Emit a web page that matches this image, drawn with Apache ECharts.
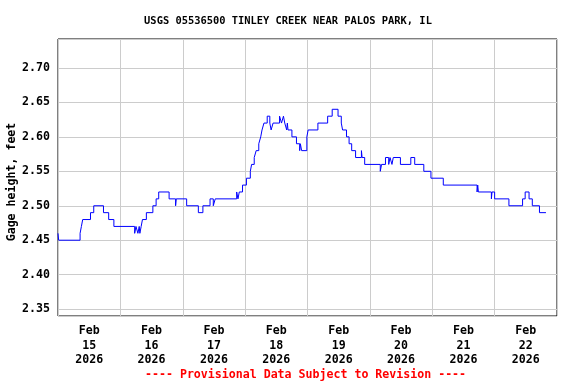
<!DOCTYPE html>
<html>
<head>
<meta charset="utf-8">
<script src="https://cdn.jsdelivr.net/npm/echarts@6/dist/echarts.min.js"></script>
<style>html,body{margin:0;padding:0;background:#fff}#c{width:576px;height:384px}</style>
</head>
<body>
<div id="c"></div>
<script>
// Hours since 2026-02-15 00:00 at which the gage height changes
var changeHours = [0, 0.25, 8.5, 9, 9.5, 12.5, 13.75, 17.5, 19.5, 21.5, 29.5, 30, 30.75, 31.25, 31.5, 32, 32.5, 34, 36.5, 37.75, 38.75, 42.75, 45.25, 45.5, 49.5, 54, 55.75, 58.5, 59.75, 60.5, 68.75, 69.25, 69.75, 71, 72.5, 74, 74.5, 75.5, 76.25, 77.25, 78, 78.5, 79.25, 80.5, 81.5, 82, 82.75, 85.25, 86, 86.75, 87.25, 88, 88.25, 88.5, 90, 91.75, 93, 93.25, 93.75, 95.75, 96.25, 100, 103.75, 105.5, 107.75, 109, 109.5, 111, 112, 113, 114.5, 116.75, 117, 118, 124, 124.5, 126, 127.25, 127.75, 128.5, 129, 131.75, 135.75, 137.25, 140.75, 143.5, 148.25, 161.25, 161.5, 161.75, 166.75, 167, 168, 173.5, 178.75, 179.75, 181.25, 182.5, 185.25, 187.75];
// Gage height, feet
var gageHeight = [2.46, 2.45, 2.46, 2.47, 2.48, 2.49, 2.50, 2.49, 2.48, 2.47, 2.46, 2.47, 2.46, 2.47, 2.46, 2.47, 2.48, 2.49, 2.50, 2.51, 2.52, 2.51, 2.50, 2.51, 2.50, 2.49, 2.50, 2.51, 2.50, 2.51, 2.52, 2.51, 2.52, 2.53, 2.54, 2.55, 2.56, 2.57, 2.58, 2.59, 2.60, 2.61, 2.62, 2.63, 2.62, 2.61, 2.62, 2.63, 2.62, 2.63, 2.62, 2.61, 2.62, 2.61, 2.60, 2.59, 2.58, 2.59, 2.58, 2.60, 2.61, 2.62, 2.63, 2.64, 2.63, 2.62, 2.61, 2.60, 2.59, 2.58, 2.57, 2.58, 2.57, 2.56, 2.55, 2.56, 2.57, 2.56, 2.57, 2.56, 2.57, 2.56, 2.57, 2.56, 2.55, 2.54, 2.53, 2.52, 2.53, 2.52, 2.51, 2.52, 2.51, 2.50, 2.51, 2.52, 2.51, 2.50, 2.49, 2.49];
var dayMonths = ['Feb', 'Feb', 'Feb', 'Feb', 'Feb', 'Feb', 'Feb', 'Feb'];
var dayNumbers = ['15', '16', '17', '18', '19', '20', '21', '22'];
var dayYears = ['2026', '2026', '2026', '2026', '2026', '2026', '2026', '2026'];
var titleText = 'USGS 05536500 TINLEY CREEK NEAR PALOS PARK, IL';
var yAxisName = 'Gage height, feet';
var footerText = '---- Provisional Data Subject to Revision ----';

var seriesData = changeHours.map(function (h, i) { return [h, gageHeight[i]]; });
var dayLabels = dayMonths.map(function (m, i) { return m + '\n' + dayNumbers[i] + '\n' + dayYears[i]; });
var FONT = 'DejaVu Sans Mono';

var chart = echarts.init(document.getElementById('c'), null, {renderer: 'canvas'});
chart.setOption({
  animation: false,
  backgroundColor: '#fff',
  title: {
    text: titleText, left: 'center', top: 11,
    textStyle: {fontFamily: FONT, fontWeight: 'bold', fontSize: 10.4, color: '#000'}
  },
  graphic: [{
    type: 'text', left: 145, top: 369,
    style: {text: footerText, fontFamily: FONT, fontWeight: 'bold', fontSize: 11.6, fill: '#ff0000'}
  }, {
    type: 'text', rotation: Math.PI / 2, x: 6, y: 182,
    style: {text: yAxisName, fontFamily: FONT, fontWeight: 'bold', fontSize: 11.6, fill: '#000',
      align: 'center', verticalAlign: 'top'}
  }],
  grid: {left: 58, right: 19, top: 39, bottom: 68, containLabel: false, outerBoundsMode: 'none',
    show: true, borderColor: '#000', borderWidth: 1, backgroundColor: 'transparent'},
  xAxis: [{
    type: 'value', min: 0, max: 192, interval: 24,
    axisLabel: {show: false}, axisTick: {show: false}, axisLine: {show: false},
    splitLine: {show: true, lineStyle: {color: '#cccccc', width: 1}}
  }, {
    type: 'category', data: dayLabels, boundaryGap: true, position: 'bottom',
    axisLine: {show: false}, axisTick: {show: false}, splitLine: {show: false},
    axisLabel: {interval: 0, margin: 8, fontFamily: FONT, fontWeight: 'bold', fontSize: 11.6, color: '#000', lineHeight: 14.5}
  }],
  yAxis: {
    type: 'value', min: 2.34, max: 2.742, splitNumber: 8,
    axisLine: {show: false}, axisTick: {show: false},
    axisLabel: {showMinLabel: false, showMaxLabel: false, margin: 8, fontFamily: FONT, fontWeight: 'bold', fontSize: 11.6, color: '#000',
      formatter: function (v) { return v.toFixed(2); }},
    splitLine: {show: true, lineStyle: {color: '#cccccc', width: 1}}
  },
  series: [{
    type: 'line', xAxisIndex: 0, step: 'end', data: seriesData,
    showSymbol: false, symbol: 'none',
    lineStyle: {color: '#0000ff', width: 1}
  }]
});
</script>
</body>
</html>
